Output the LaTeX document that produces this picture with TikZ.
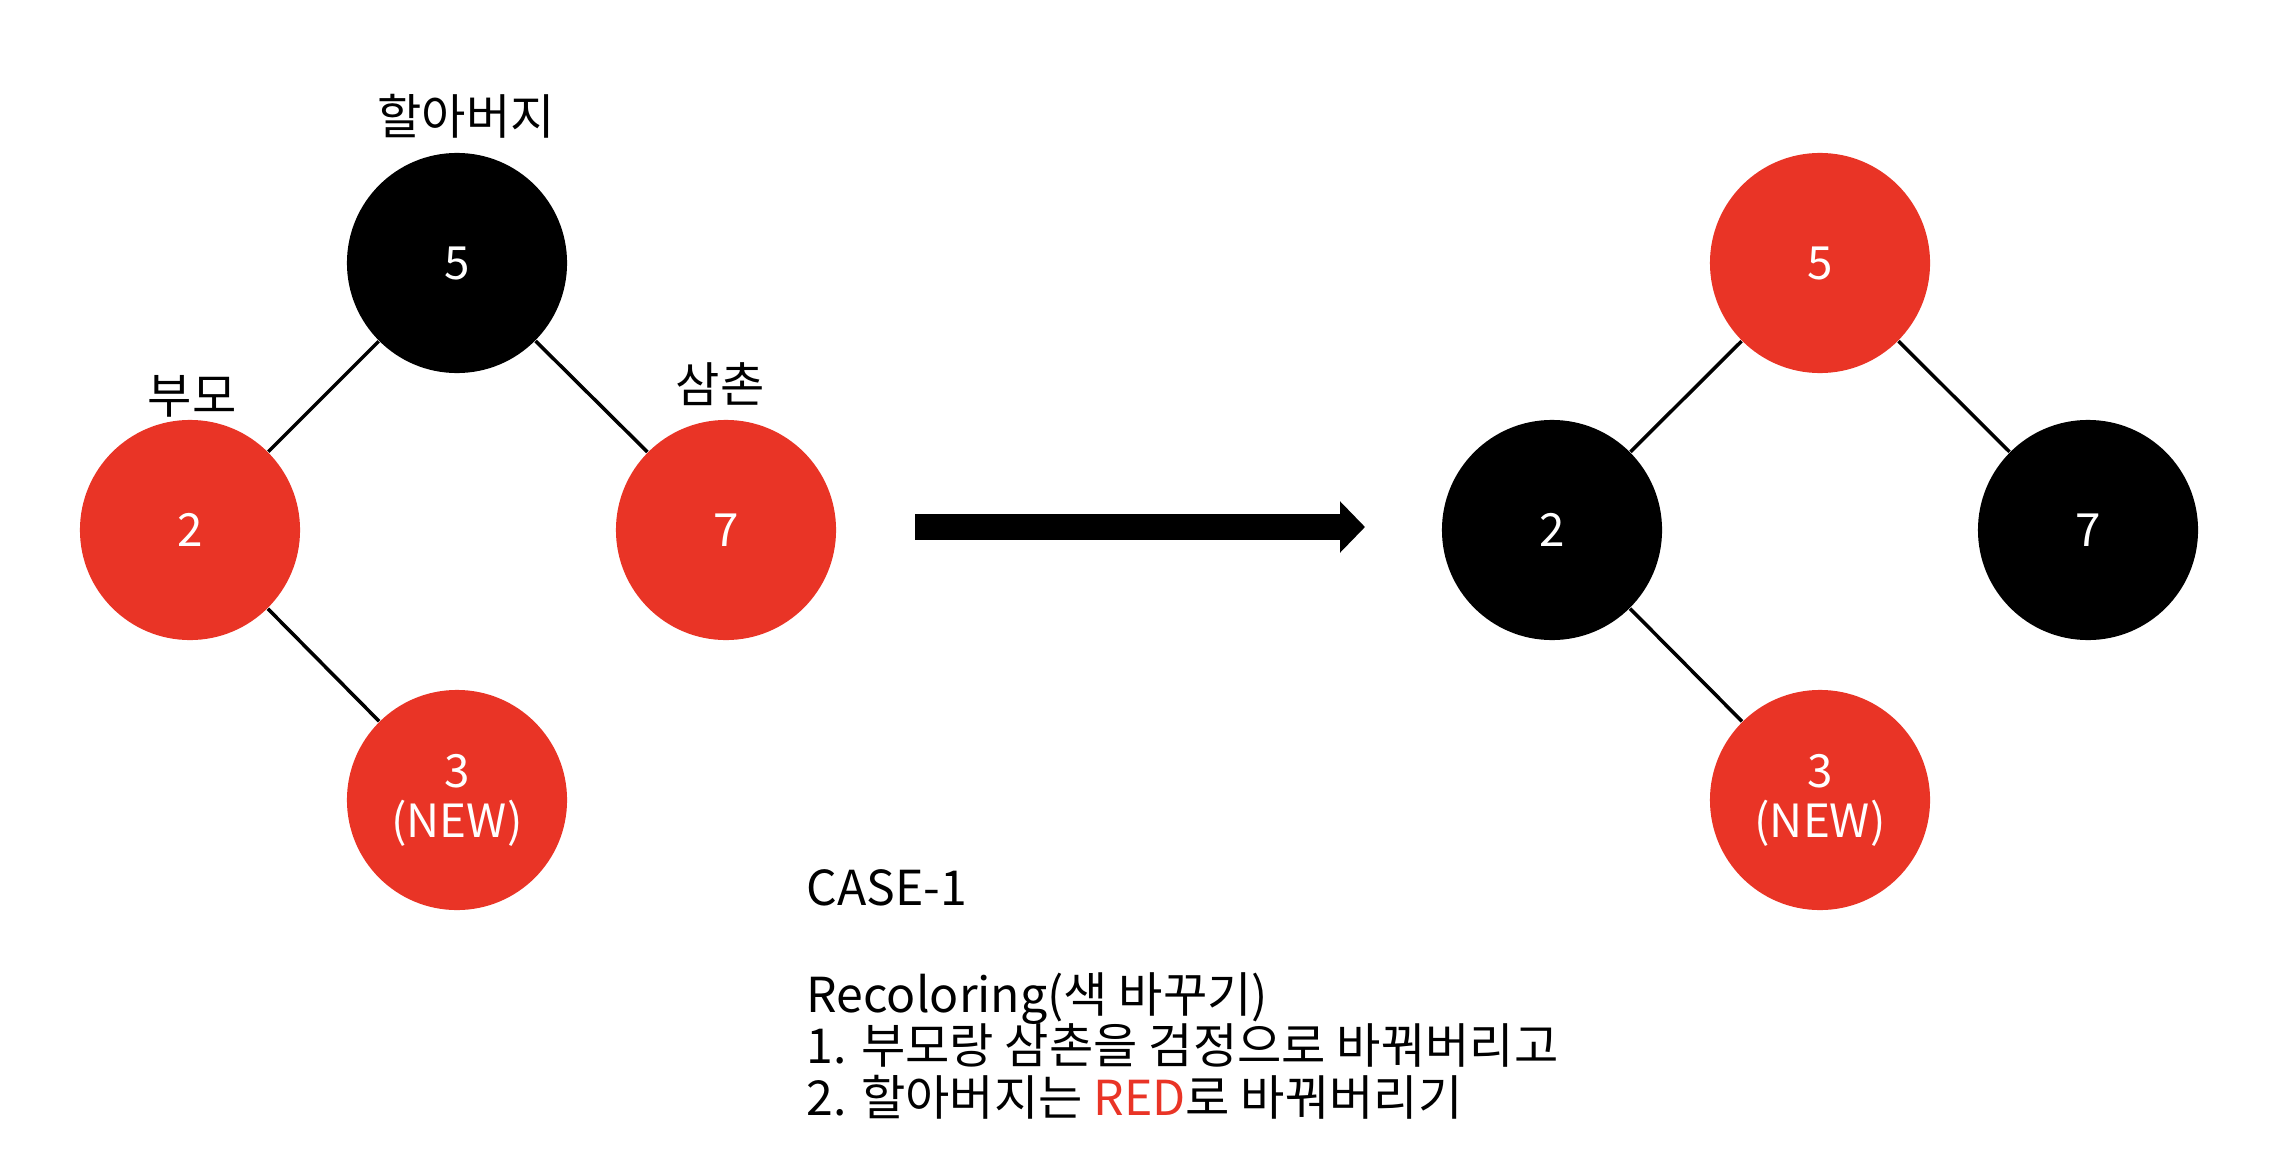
\documentclass[tikz,border=0pt]{standalone}
\usepackage{fontspec}
\setmainfont{Noto Sans CJK KR}
\usetikzlibrary{arrows.meta}
\definecolor{rbred}{RGB}{233,52,38}

\begin{document}
\begin{tikzpicture}[x=0.01cm, y=-0.01cm,
    rbnode/.style={circle, minimum size=2.2cm, inner sep=0pt, text=white, align=center,
        font=\fontsize{13}{14.2}\selectfont},
    rednode/.style={rbnode, fill=rbred},
    blacknode/.style={rbnode, fill=black},
    edge/.style={black, line width=0.035cm},
    role/.style={font=\fontsize{13.7}{15}\selectfont},
    note/.style={anchor=base west, inner sep=0pt, font=\fontsize{13.7}{15}\selectfont}]
    \useasboundingbox (0,0) rectangle (2276,1176);
    % before recoloring
    \node[blacknode] (g)  at (457, 263) {5};
    \node[rednode]   (p)  at (190, 530) {2};
    \node[rednode]   (u)  at (726, 530) {7};
    \node[rednode]   (n)  at (457, 800) {3\\(NEW)};
    \draw[edge] (g)--(p);
    \draw[edge] (g)--(u);
    \draw[edge] (p)--(n);
    \node[role] (gl) at (466, 116) {할아버지};
    \node[role] (pl) at (192, 396) {부모};
    \node[role] (ul) at (720, 384) {삼촌};
    % arrow
    \coordinate (as) at (915, 527);
    \coordinate (ae) at (1365, 527);
    \draw[line width=0.25cm, -{Triangle[length=0.25cm, width=0.5cm]}] (as)--(ae);
    % after recoloring
    \node[rednode]   (g2) at (1820, 263) {5};
    \node[blacknode] (p2) at (1552, 530) {2};
    \node[blacknode] (u2) at (2088, 530) {7};
    \node[rednode]   (n2) at (1820, 800) {3\\(NEW)};
    \draw[edge] (g2)--(p2);
    \draw[edge] (g2)--(u2);
    \draw[edge] (p2)--(n2);
    % explanation
    \node[note] (c1) at (806, 905)  {CASE-1};
    \node[note] (c2) at (806, 1012) {Recoloring(색 바꾸기)};
    \node[note] (c3) at (806, 1063) {1. 부모랑 삼촌을 검정으로 바꿔버리고};
    \node[note] (c4) at (806, 1115) {2. 할아버지는 \textcolor{rbred}{RED}로 바꿔버리기};
\end{tikzpicture}
\end{document}
